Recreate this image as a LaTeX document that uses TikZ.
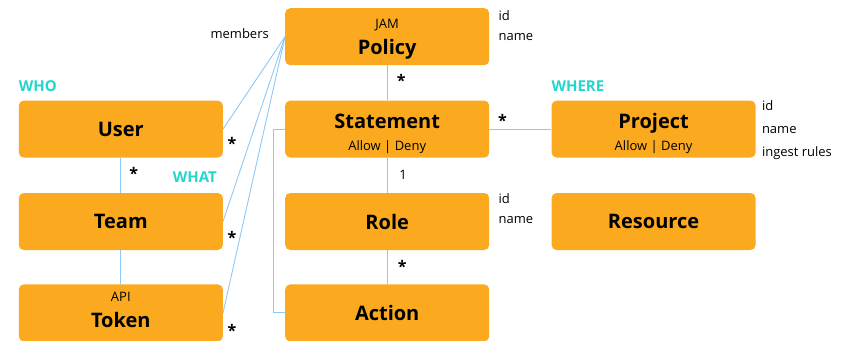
\documentclass[tikz,border=0pt]{standalone}
\usepackage{fontspec}
\setmainfont{Open Sans}
\usepackage{xcolor}
\usepackage{tikz}
\usetikzlibrary{positioning}
\definecolor{boxorange}{HTML}{FBAA1F}
\definecolor{tagteal}{HTML}{22D6CC}
\definecolor{linkblue}{HTML}{8CC8F9}
\tikzstyle{entity} = [rectangle, rounded corners=5pt, minimum width=204pt, minimum height=57pt, text centered, align=center, inner sep=0pt, fill=boxorange, font=\bfseries\fontsize{20}{24}\selectfont]
\tikzstyle{attr} = [anchor=north west, align=left, inner sep=0pt, font=\fontsize{13}{20}\selectfont]
\tikzstyle{tag} = [inner sep=0pt, text=tagteal, font=\bfseries\fontsize{15}{17}\selectfont]
\tikzstyle{mult} = [inner sep=0pt, font=\bfseries\fontsize{16}{16}\selectfont]
\tikzstyle{link} = [draw=linkblue, line width=0.9pt]
\newcommand{\subline}[1]{{\mdseries\fontsize{13}{16}\selectfont #1}}

\begin{document}
\begin{tikzpicture}[node distance=35pt]
   \useasboundingbox (0,0) rectangle (856pt,-340pt);
   \node (policy) [entity, anchor=north west] at (285pt,-8pt) {\rule{0pt}{13.5pt}\subline{JAM}\\[2pt]Policy};
   \node (statement) [entity, below=of policy] {\rule{0pt}{23.5pt}Statement\\[-2pt]\subline{Allow | Deny}};
   \node (role) [entity, below=of statement] {Role};
   \node (action) [entity, below=34pt of role] {Action};
   \node (user) [entity, left=62pt of statement] {User};
   \node (team) [entity, left=62pt of role] {Team};
   \node (token) [entity, left=62pt of action] {\subline{API}\\[2pt]\rule[-7pt]{0pt}{7pt}Token};
   \node (project) [entity, right=62pt of statement] {\rule{0pt}{23.5pt}Project\\[-2pt]\subline{Allow | Deny}};
   \node (resource) [entity, right=62pt of role] {Resource};

   \node (members) [attr, anchor=east] at ([xshift=-16pt,yshift=3pt]policy.west) {members};
   \node (policyattr) [attr] at ([xshift=9pt,yshift=-2pt]policy.north east) {id\\name};
   \node (roleattr) [attr] at ([xshift=9pt,yshift=-1pt]role.north east) {id\\name};
   \node (projectattr) [attr] at ([xshift=6pt]project.north east) {id\\[3pt]name\\[3pt]ingest rules};
   \node (who) [tag, anchor=south west] at ([yshift=9pt]user.north west) {WHO};
   \node (what) [tag, anchor=south east] at ([xshift=-6pt,yshift=10pt]team.north east) {WHAT};
   \node (where) [tag, anchor=south west] at ([yshift=9pt]project.north west) {WHERE};

   \draw [link] (policy.west) -- (user.east);
   \draw [link] (policy.west) -- (team.east);
   \draw [link] (policy.west) -- (token.east);
   \draw [link] (user) -- (team);
   \draw [link] (team) -- (token);
   \draw [link] (policy) -- (statement);
   \draw [link] (statement) -- (role);
   \draw [link] (role) -- (action);
   \draw [link] (statement) -- (project);
   \draw [link] (statement.west) -- ++(-12pt,0) |- (action.west);

   \node (multuser) [mult] at ([xshift=9pt,yshift=-14pt]user.east) {*};
   \node (multteamtop) [mult] at ([xshift=13pt,yshift=19pt]team.north) {*};
   \node (multteam) [mult] at ([xshift=9pt,yshift=-16pt]team.east) {*};
   \node (multtoken) [mult] at ([xshift=9pt,yshift=-18pt]token.east) {*};
   \node (multpolicy) [mult] at ([xshift=14pt,yshift=-15pt]policy.south) {*};
   \node (multproject) [mult] at ([xshift=13pt,yshift=9pt]statement.east) {*};
   \node (multaction) [mult] at ([xshift=15pt,yshift=-16pt]role.south) {*};
   \node (onerole) [attr, anchor=center] at ([xshift=16pt,yshift=-17pt]statement.south) {1};
\end{tikzpicture}
\end{document}
